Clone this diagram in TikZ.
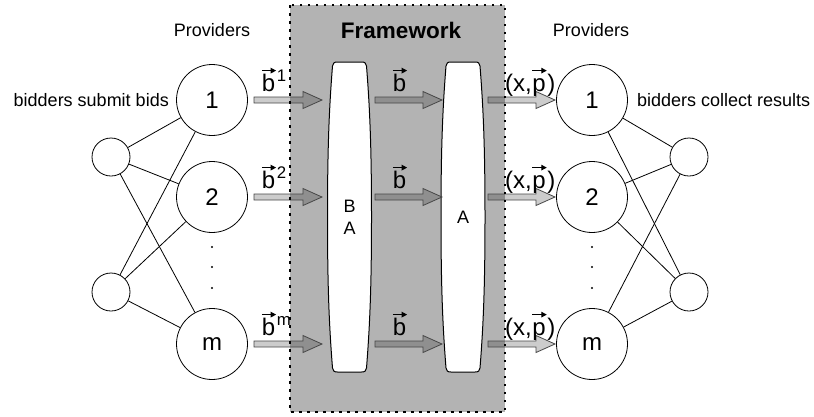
\documentclass[tikz,border=0pt]{standalone}
\usepackage{fontspec}
\setmainfont{Liberation Sans}
\usetikzlibrary{arrows.meta,calc}

\definecolor{framefill}{RGB}{179,179,179}

% letter with a small arrow drawn over it
\newcommand\vecover[1]{\tikz[baseline=(vv.base)]{%
  \node[inner sep=0pt,outer sep=0pt,anchor=base] (vv) {\vphantom{b}#1};
  \draw[line width=1.2pt,-{Triangle[length=5.5pt,width=5.5pt]}]
    ([yshift=3pt]vv.north west) -- ([xshift=1pt,yshift=3pt]vv.north east);}}

\begin{document}
\begin{tikzpicture}[x=1pt,y=-1pt,
  provider/.style={circle,draw,line width=0.8pt,minimum size=71pt,inner sep=0pt,
    font=\fontsize{24}{26}\selectfont},
  bidder/.style={circle,draw,line width=0.8pt,minimum size=38pt,inner sep=0pt},
  link/.style={line width=0.8pt},
  caption/.style={font=\fontsize{18}{20}\selectfont,inner sep=0pt},
  veclabel/.style={font=\fontsize{24}{26}\selectfont,inner sep=0pt},
  boxlabel/.style={font=\fontsize{18}{22}\selectfont,align=center,inner sep=0pt},
  ellipsis/.style={circle,fill,inner sep=0pt,minimum size=2.4pt},
  barrelline/.style={draw=black,fill=white,line width=1pt},
  frameborder/.style={draw=black,line width=2.5pt,dash pattern=on 2.5pt off 5.5pt},
  blockarrow/.style={draw=black!72,line width=0.8pt,fill=black,fill opacity=0.2,
    to path={let \p1=(\tikztostart),\p2=(\tikztotarget) in
      (\x1,\y1+3pt) -- (\x2-19pt,\y1+3pt) -- (\x2-19pt,\y1+8.5pt) -- (\x2,\y1)
      -- (\x2-19pt,\y1-8.5pt) -- (\x2-19pt,\y1-3pt) -- (\x1,\y1-3pt) -- cycle}},
  barrel/.pic={
    \path[barrelline] (-12,62) -- (12,62)
      .. controls (15.5,62) and (16.5,63) .. (17,66)
      .. controls (20.5,110) and (22,150) .. (22,217)
      .. controls (22,284) and (20.5,324) .. (17,368)
      .. controls (16.5,371) and (15.5,372) .. (12,372) -- (-12,372)
      .. controls (-15.5,372) and (-16.5,371) .. (-17,368)
      .. controls (-20.5,324) and (-22,284) .. (-22,217)
      .. controls (-22,150) and (-20.5,110) .. (-17,66)
      .. controls (-16.5,63) and (-15.5,62) .. (-12,62) -- cycle;
  },
]
\useasboundingbox (0,0) rectangle (814,416);

% framework background
\fill[framefill] (290,5) rectangle (505,412);

% the two mechanism stages
\pic at (349.5,0) {barrel};
\pic at (463,0) {barrel};
\node[boxlabel] (ba) at (349.5,217) {B\\A};
\node[boxlabel] (a) at (463,217) {A};

% providers and bidders on the left
\node[provider] (L1) at (212,100) {1};
\node[provider] (L2) at (212,197) {2};
\node[provider] (Lm) at (212,344) {m};
\node[bidder] (S1) at (111,157) {};
\node[bidder] (S2) at (111,292) {};
\node[ellipsis] (ld1) at (212,247) {};
\node[ellipsis] (ld2) at (212,267) {};
\node[ellipsis] (ld3) at (212,288) {};
\foreach \s in {S1,S2}
  \foreach \p in {L1,L2,Lm}
    \draw[link] (\s) -- (\p);

% providers and bidders on the right
\node[provider] (R1) at (592,100) {1};
\node[provider] (R2) at (592,197) {2};
\node[provider] (Rm) at (592,344) {m};
\node[bidder] (T1) at (689,157) {};
\node[bidder] (T2) at (689,292) {};
\node[ellipsis] (rd1) at (592,247) {};
\node[ellipsis] (rd2) at (592,267) {};
\node[ellipsis] (rd3) at (592,288) {};
\foreach \s in {T1,T2}
  \foreach \p in {R1,R2,Rm}
    \draw[link] (\p) -- (\s);

% arrow end points
\foreach \r/\y in {1/100,2/197,m/344}{
  \coordinate (in\r)  at (254,\y);
  \coordinate (ba\r)  at (322,\y);
  \coordinate (mid\r) at (375,\y);
  \coordinate (a\r)   at (442,\y);
  \coordinate (out\r) at (488,\y);
  \coordinate (res\r) at (555,\y);
}
\foreach \r in {1,2,m}{
  \draw[blockarrow] (in\r) to (ba\r);
  \draw[blockarrow] (mid\r) to (a\r);
  \draw[blockarrow] (out\r) to (res\r);
}

% dotted framework border
\draw[frameborder] (290,5) rectangle (505,412);

% arrow labels
\foreach \r/\y in {1/91,2/188,m/335}{
  \node[veclabel,anchor=base west] (bid\r) at (261,\y) {\vecover{b}\textsuperscript{\r}};
  \node[veclabel,anchor=base] (bv\r) at (400,\y) {\vecover{b}};
  \node[veclabel,anchor=base west] (xp\r) at (505,\y) {(x,\vecover{p})};
}

% captions
\node[caption] (provL) at (212,30) {Providers};
\node[caption] (provR) at (591,30) {Providers};
\node[font=\fontsize{22.5}{24}\selectfont\bfseries,inner sep=0pt] (fw) at (401,30) {Framework};
\node[caption,anchor=east] (submit) at (169,100) {bidders submit bids};
\node[caption,anchor=west] (collect) at (637,100) {bidders collect results};
\end{tikzpicture}
\end{document}
